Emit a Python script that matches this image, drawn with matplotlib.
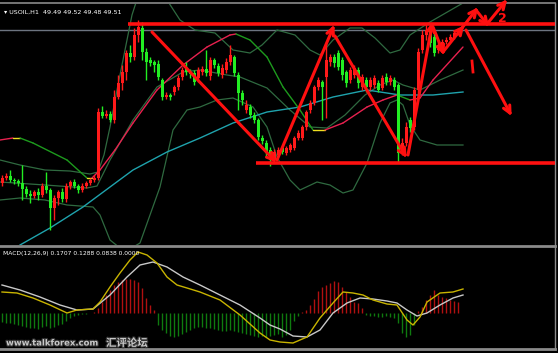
import numpy as np
import matplotlib.pyplot as plt
import matplotlib.patheffects as pe

# USOIL H1 candles
opens = [47.98, 48.03, 48.05, 48.01, 48.00, 47.98, 47.92, 47.87, 47.85, 47.89,
         47.86, 47.95, 47.91, 47.73, 47.83, 47.89, 47.82, 47.95, 47.99, 47.95,
         47.91, 47.95, 47.98, 48.01, 48.03, 48.69, 48.65, 48.67, 48.61, 48.84,
         48.98, 49.09, 49.28, 49.24, 49.46, 49.53, 49.29, 49.21, 49.19, 49.17,
         49.01, 48.84, 48.86, 48.89, 48.94, 49.04, 49.13, 49.09, 49.08, 49.03,
         49.09, 49.12, 49.05, 49.21, 49.15, 49.06, 49.11, 49.19, 49.24, 49.06,
         48.88, 48.71, 48.74, 48.66, 48.61, 48.43, 48.38, 48.31, 48.21, 48.26,
         48.33, 48.28, 48.31, 48.33, 48.43, 48.43, 48.54, 48.71, 48.78, 48.94,
         48.99, 49.04, 49.19, 49.24, 49.28, 49.21, 49.09, 49.01, 49.06, 49.11,
         48.94, 49.01, 48.94, 48.96, 48.98, 48.93, 49.04, 48.99, 49.01, 48.96,
         48.31, 48.38, 48.61, 48.54, 48.91, 49.31, 49.46, 49.51, 49.44, 49.31,
         49.35, 49.39, 49.41, 49.44, 49.48]
closes = [48.03, 48.05, 48.01, 48.00, 47.98, 47.92, 47.87, 47.85, 47.89, 47.86,
          47.95, 47.91, 47.73, 47.83, 47.89, 47.82, 47.95, 47.99, 47.95, 47.91,
          47.95, 47.98, 48.01, 48.03, 48.69, 48.65, 48.67, 48.61, 48.84, 48.98,
          49.09, 49.28, 49.24, 49.46, 49.54, 49.29, 49.19, 49.18, 49.16, 49.04,
          48.84, 48.86, 48.84, 48.94, 49.03, 49.11, 49.09, 49.07, 48.99, 49.11,
          49.12, 49.08, 49.21, 49.16, 49.08, 49.13, 49.19, 49.26, 49.08, 48.88,
          48.81, 48.76, 48.66, 48.61, 48.44, 48.40, 48.28, 48.21, 48.29, 48.31,
          48.29, 48.33, 48.36, 48.43, 48.48, 48.54, 48.69, 48.78, 48.94, 49.01,
          48.94, 49.21, 49.24, 49.18, 49.14, 49.06, 48.98, 49.11, 49.13, 48.98,
          49.04, 48.94, 49.01, 49.03, 48.91, 49.03, 48.99, 49.03, 48.94, 48.28,
          48.38, 48.54, 48.53, 48.91, 49.29, 49.46, 49.51, 49.38, 49.28, 49.36,
          49.39, 49.41, 49.44, 49.48, 49.51]
highs = [48.06, 48.08, 48.11, 48.03, 48.02, 48.16, 47.95, 47.91, 47.91, 47.93,
         47.98, 48.09, 47.93, 47.86, 47.91, 47.93, 47.98, 48.01, 48.02, 47.97,
         47.98, 48.00, 48.03, 48.06, 48.73, 48.75, 48.71, 48.70, 48.91, 49.06,
         49.16, 49.31, 49.36, 49.53, 49.61, 49.59, 49.33, 49.24, 49.21, 49.21,
         49.03, 48.89, 48.88, 48.96, 49.06, 49.14, 49.19, 49.12, 49.11, 49.14,
         49.15, 49.31, 49.24, 49.23, 49.18, 49.17, 49.23, 49.36, 49.26, 49.09,
         48.91, 48.81, 48.77, 48.69, 48.63, 48.46, 48.41, 48.34, 48.32, 48.34,
         48.35, 48.35, 48.38, 48.45, 48.51, 48.56, 48.71, 48.81, 48.96, 49.04,
         49.01, 49.38, 49.27, 49.27, 49.31, 49.24, 49.11, 49.14, 49.16, 49.14,
         49.07, 49.04, 49.04, 49.06, 49.01, 49.06, 49.08, 49.06, 49.04, 48.98,
         48.43, 48.59, 48.64, 48.94, 49.33, 49.51, 49.57, 49.54, 49.48, 49.39,
         49.42, 49.44, 49.47, 49.51, 49.53]
lows = [47.95, 48.01, 47.99, 47.97, 47.95, 47.81, 47.84, 47.78, 47.83, 47.81,
        47.84, 47.88, 47.51, 47.61, 47.76, 47.79, 47.79, 47.92, 47.93, 47.88,
        47.89, 47.93, 47.96, 47.99, 48.01, 48.63, 48.63, 48.59, 48.58, 48.82,
        48.91, 49.01, 49.19, 49.21, 49.39, 49.21, 49.01, 49.15, 49.09, 49.01,
        48.81, 48.82, 48.81, 48.86, 48.91, 49.01, 49.06, 49.03, 48.96, 48.99,
        49.06, 49.05, 49.01, 49.13, 49.05, 49.03, 49.08, 49.16, 49.05, 48.71,
        48.76, 48.68, 48.63, 48.58, 48.41, 48.37, 48.24, 48.15, 48.18, 48.24,
        48.27, 48.26, 48.29, 48.31, 48.41, 48.41, 48.51, 48.68, 48.76, 48.91,
        48.61, 48.63, 49.15, 49.14, 49.11, 49.01, 48.94, 48.98, 49.03, 48.93,
        48.91, 48.89, 48.91, 48.93, 48.89, 48.91, 48.96, 48.96, 48.91, 48.18,
        48.26, 48.35, 48.49, 48.51, 48.88, 49.28, 49.41, 49.34, 49.25, 49.28,
        49.33, 49.37, 49.39, 49.42, 49.46]

# trend-coloured moving average (bar, price)
ma_x = [-0.5, 2.75, 4.5, 7.75, 16.25, 21.25, 22.5, 24.5, 28.25, 32.75, 38.75,
        45.25, 51.25, 57, 58.5, 62, 66.25, 70.25, 74.5, 77.75, 80.75, 85.25,
        91.25, 95.25, 98.75, 102, 104.5, 107.75, 115.25]
ma_y = [48.41, 48.43, 48.43, 48.38, 48.21, 48.03, 48.03, 48.11, 48.31, 48.58,
        48.91, 49.16, 49.34, 49.46, 49.47, 49.41, 49.24, 48.94, 48.71, 48.51,
        48.51, 48.58, 48.74, 48.81, 48.86, 48.81, 48.83, 49.01, 49.34]

# slow moving average (cyan)
slow_x = [4.5, 12, 20.25, 27, 32.75, 41.25, 49.5, 57.75, 66.25, 74.5, 82.75,
          91.25, 99.5, 107.75, 115.25]
slow_y = [47.36, 47.53, 47.74, 47.94, 48.11, 48.29, 48.43, 48.58, 48.69, 48.74,
          48.84, 48.91, 48.86, 48.86, 48.89]

# bollinger bands
bb_up_x = [-0.5, 4.5, 10.75, 17, 22, 24, 25.5, 27, 28.75, 30.75, 32.5, 34.5,
           38.25, 41.25, 44.5, 48.25, 53.25, 57.75, 62, 65, 68.75, 73.25, 77,
           79.5, 82.75, 87, 90, 93.25, 97, 99.5, 102, 107, 115.25]
bb_up_y = [48.21, 48.16, 48.11, 48.10, 48.07, 48.09, 48.26, 48.54, 48.91, 49.31,
           49.66, 49.91, 50.01, 49.81, 49.61, 49.51, 49.48, 49.31, 49.28, 49.36,
           49.51, 49.46, 49.31, 49.26, 49.41, 49.53, 49.53, 49.43, 49.28, 49.31,
           49.46, 49.59, 49.78]
bb_mid_x = [-0.5, 10.75, 21.25, 23.75, 27, 32.75, 38.75, 45.25, 49.5, 56.25,
            59.5, 66.25, 72, 77, 81.25, 85.75, 90.75, 94.5, 97.75, 100.25,
            104.5, 109.5, 115.25]
bb_mid_y = [47.99, 47.96, 47.93, 47.95, 48.21, 48.61, 48.94, 49.09, 49.11, 49.06,
            49.04, 48.93, 48.71, 48.54, 48.53, 48.66, 48.86, 48.96, 49.01, 48.96,
            48.91, 49.01, 49.11]
bb_lo_x = [-0.5, 4.5, 10.75, 16.25, 22.75, 24.5, 27, 30.75, 34.5, 37, 39.5,
           42.75, 46.25, 49.5, 53.75, 57.75, 62.75, 66.25, 68.75, 72, 74.5,
           78.75, 82, 85.25, 87.75, 91.25, 94.5, 97, 98.75, 100.25, 102, 104.5,
           108.75, 115.25]
bb_lo_y = [47.81, 47.83, 47.81, 47.76, 47.74, 47.66, 47.41, 47.29, 47.38, 47.66,
           47.94, 48.51, 48.71, 48.74, 48.81, 48.83, 48.74, 48.54, 48.24, 48.01,
           47.91, 47.99, 47.96, 47.88, 47.91, 48.18, 48.58, 48.78, 48.81, 48.76,
           48.56, 48.41, 48.36, 48.36]

# MACD histogram per candle
macd_hist = [-0.09, -0.10, -0.10, -0.11, -0.12, -0.13, -0.14, -0.15, -0.15, -0.16,
             -0.14, -0.13, -0.15, -0.14, -0.12, -0.11, -0.08, -0.05, -0.03, -0.02,
             -0.01, -0.01, 0.00, 0.01, 0.05, 0.11, 0.18, 0.23, 0.28, 0.31,
             0.33, 0.34, 0.34, 0.33, 0.31, 0.25, 0.15, 0.08, 0.03, -0.12,
             -0.17, -0.20, -0.23, -0.24, -0.23, -0.21, -0.19, -0.17, -0.15, -0.14,
             -0.14, -0.15, -0.15, -0.16, -0.17, -0.18, -0.18, -0.17, -0.18, -0.19,
             -0.20, -0.21, -0.22, -0.23, -0.24, -0.23, -0.24, -0.23, -0.22, -0.21,
             -0.24, -0.22, -0.17, -0.08, -0.03, 0.01, 0.03, 0.08, 0.14, 0.22,
             0.26, 0.28, 0.30, 0.32, 0.31, 0.26, 0.21, 0.16, 0.11, 0.10,
             0.05, -0.02, -0.03, -0.03, -0.04, -0.04, -0.03, -0.04, -0.05, -0.10,
             -0.20, -0.24, -0.22, -0.12, 0.02, 0.06, 0.13, 0.18, 0.23, 0.18,
             0.16, 0.15, 0.13, 0.12, 0.11]

# MACD main (yellow) and signal (silver)
macd_main_x = [0, 3.75, 7.75, 12, 16.25, 18.75, 22.75, 24.5, 27, 29.5, 32, 34,
               36.25, 38.75, 41.25, 43.75, 46.25, 49.5, 54.5, 59.5, 64.5, 67,
               69.5, 72.75, 76.25, 79.5, 82.75, 85.25, 87.75, 90.25, 92.75,
               96.25, 98.75, 101.25, 102.75, 104.5, 106.25, 109.5, 112.75, 115.25]
macd_main = [0.21, 0.20, 0.15, 0.08, 0.00, 0.03, 0.04, 0.11, 0.26, 0.40, 0.53,
             0.61, 0.58, 0.50, 0.36, 0.28, 0.25, 0.21, 0.13, -0.02, -0.20, -0.27,
             -0.29, -0.30, -0.24, -0.05, 0.10, 0.21, 0.20, 0.18, 0.13, 0.09,
             0.08, -0.07, -0.12, -0.04, 0.11, 0.20, 0.21, 0.24]
macd_sig_x = [0, 4.5, 9.5, 14.5, 18.75, 22.75, 27, 31.25, 34.5, 37.75, 41.25,
              45.25, 49.5, 54.5, 59.5, 64.5, 67, 69.5, 72.75, 76.25, 79.5, 82.75,
              86.25, 89.5, 92.75, 96.25, 98.75, 101.25, 103.75, 106.25, 109.5,
              112.75, 115.25]
macd_sig = [0.28, 0.23, 0.16, 0.08, 0.03, 0.04, 0.18, 0.36, 0.48, 0.51, 0.46,
            0.36, 0.28, 0.18, 0.08, -0.05, -0.12, -0.16, -0.23, -0.24, -0.17,
            0.00, 0.10, 0.15, 0.14, 0.12, 0.10, 0.03, -0.03, 0.00, 0.08, 0.15,
            0.18]

header = "USOIL,H1  49.49 49.52 49.48 49.51"
macd_label = "MACD(12,26,9) 0.1707 0.1288 0.0838 0.0000"
last_price = 49.51

W, H = 558, 353
BG = "black"
UP = "#ff1a1a"
DOWN = "#22ee22"

fig = plt.figure(figsize=(W / 100, H / 100), dpi=100, facecolor=BG)

def px_axes(x0, y0, x1, y1):
    # axes rectangle given in pixel coords of the screenshot (y down)
    return fig.add_axes([x0 / W, 1 - y1 / H, (x1 - x0) / W, (y1 - y0) / H])

ax = px_axes(0, 4, 555, 245)
ax.set_facecolor(BG)
ax.set_xlim(-0.5, -0.5 + 555 / 4)
ax.set_ylim(47.36, 49.77)
ax.axis("off")

n = len(closes)
xs = np.arange(n)
o = np.array(opens)
c = np.array(closes)
cols = [UP if cc >= oo else DOWN for oo, cc in zip(o, c)]

ax.axhline(last_price, color="#6c7480", lw=1.0, zorder=1)

# indicators
bbc = "#2f6a40"
ax.plot(bb_up_x, bb_up_y, color=bbc, lw=0.9, zorder=2)
ax.plot(bb_mid_x, bb_mid_y, color=bbc, lw=0.9, zorder=2)
ax.plot(bb_lo_x, bb_lo_y, color=bbc, lw=0.9, zorder=2)
ax.plot(slow_x, slow_y, color="#1fa3ad", lw=1.0, zorder=2)
for i in range(len(ma_x) - 1):
    slope = (ma_y[i + 1] - ma_y[i]) / (ma_x[i + 1] - ma_x[i])
    if abs(slope) < 0.006:
        col = "#f0e020"
    elif slope > 0:
        col = "#e8214f"
    else:
        col = "#1d9a1d"
    ax.plot(ma_x[i:i + 2], ma_y[i:i + 2], color=col, lw=1.0, zorder=2,
            solid_capstyle="round")

# candles
ax.vlines(xs, lows, highs, colors=cols, lw=1.0, zorder=3)
body = np.abs(c - o)
body = np.where(body < 0.012, 0.012, body)
ax.bar(xs, body, bottom=np.minimum(o, c), width=0.75, color=cols,
       linewidth=0, zorder=4)

# MACD panel
mx = px_axes(0, 248, 555, 348)
mx.set_facecolor(BG)
mx.set_xlim(-0.5, -0.5 + 555 / 4)
mx.set_ylim(-0.35, 0.65)
mx.axis("off")
hcols = ["#b01010" if v > 0 else "#0f7a0f" for v in macd_hist]
mx.vlines(xs, 0, macd_hist, colors=hcols, lw=1.0)
mx.plot(macd_sig_x, macd_sig, color="#c8c8c8", lw=1.0)
mx.plot(macd_main_x, macd_main, color="#c8b400", lw=1.0)

# overlay in pixel coords: frame and hand-drawn marks
ov = fig.add_axes([0, 0, 1, 1], facecolor="none")
ov.set_xlim(0, W)
ov.set_ylim(H, 0)
ov.axis("off")

frame = "#8a8a8a"
ov.plot([0, 555], [3, 3], color=frame, lw=1.2)
ov.plot([0, 555], [246, 246], color=frame, lw=2.0)
ov.plot([0, 555], [349, 349], color=frame, lw=2.0)
ov.plot([555, 555], [3, 349], color=frame, lw=1.0)

RED = "#ff1010"
ov.plot([128, 555], [24, 24], color=RED, lw=2.6, solid_capstyle="butt")
ov.plot([256, 555], [163, 163], color=RED, lw=2.6, solid_capstyle="butt")

def hand_arrow(x0, y0, x1, y1, head=9):
    ov.plot([x0, x1], [y0, y1], color=RED, lw=2.2, solid_capstyle="round")
    ang = np.arctan2(y1 - y0, x1 - x0)
    for d in (np.pi - 0.45, np.pi + 0.45):
        ov.plot([x1, x1 + head * np.cos(ang + d)],
                [y1, y1 + head * np.sin(ang + d)],
                color=RED, lw=2.2, solid_capstyle="round")

arrows = [(152, 32, 274, 160), (277, 160, 333, 28), (335, 36, 405, 155),
          (408, 155, 432, 25), (433, 27, 443, 52), (443, 52, 462, 28),
          (462, 28, 476, 10), (476, 10, 487, 24), (487, 24, 505, 2),
          (466, 30, 510, 113)]
for a in arrows:
    hand_arrow(*a, head=8)

ov.plot([472, 473], [61, 72], color=RED, lw=2.0)
ov.text(502, 18, "2", color=RED, fontsize=9, fontweight="bold",
        ha="center", va="center")

ov.text(4, 12, "\u25be " + header, color="white", fontsize=4.6,
        va="center", ha="left")
ov.text(3, 253, macd_label, color="white", fontsize=4.3, va="center", ha="left")

halo = [pe.withStroke(linewidth=1.6, foreground="#303030")]
ov.text(6, 343, "www.talkforex.com", color="#c8c8c8", fontsize=6.1,
        fontweight="bold", va="center", ha="left", path_effects=halo)
ov.text(106, 343, "汇评论坛", color="#c8c8c8", fontsize=7.5, fontweight="bold",
        family=["Noto Sans CJK SC", "DejaVu Sans"], va="center", ha="left",
        path_effects=halo)

fig.savefig("out.png", dpi=100, facecolor=BG)
